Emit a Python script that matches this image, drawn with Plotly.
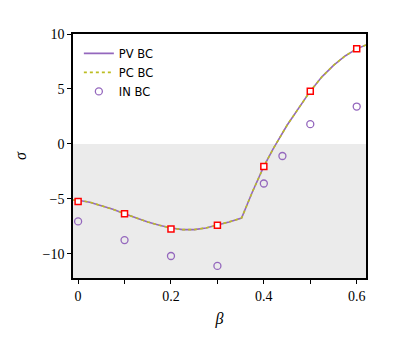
import plotly.graph_objects as go

# continuous curves (PV BC and PC BC lie on top of each other)
beta_line = [-0.012, 0.0, 0.025, 0.05, 0.075, 0.1, 0.125, 0.15, 0.175, 0.2, 0.225, 0.25,
             0.275, 0.3, 0.325, 0.352, 0.375, 0.4, 0.42, 0.45, 0.475, 0.5, 0.525,
             0.55, 0.575, 0.6, 0.62]
pv_sigma = [-5.1, -5.12, -5.3, -5.6, -5.95, -6.35, -6.75, -7.1, -7.4, -7.65, -7.8, -7.8,
            -7.65, -7.4, -7.1, -6.75, -4.4, -2.05, -0.45, 1.7, 3.3, 4.8, 6.1,
            7.15, 8.0, 8.65, 9.0]
pc_sigma = list(pv_sigma)

# IN BC circles
beta_in = [0.0, 0.1, 0.2, 0.3, 0.4, 0.44, 0.5, 0.6]
sigma_in = [-7.05, -8.75, -10.2, -11.1, -3.6, -1.1, 1.8, 3.4]

# red squares
beta_sq = [0.0, 0.1, 0.2, 0.3, 0.4, 0.5, 0.6]
sigma_sq = [-5.25, -6.35, -7.75, -7.4, -2.05, 4.8, 8.65]

x_ticks = [0, 0.1, 0.2, 0.3, 0.4, 0.5, 0.6]
x_labels = ["0", "", "0.2", "", "0.4", "", "0.6"]
y_ticks = [-10, -5, 0, 5, 10]

purple = "#9467bd"
olive = "#bcbd22"

fig = go.Figure()
fig.add_trace(go.Scatter(x=beta_line, y=pv_sigma, mode="lines", name="PV BC",
                         line=dict(color=purple, width=1.6)))
fig.add_trace(go.Scatter(x=beta_line, y=pc_sigma, mode="lines", name="PC BC",
                         line=dict(color=olive, width=1.6, dash="dot")))
fig.add_trace(go.Scatter(x=beta_in, y=sigma_in, mode="markers", name="IN BC",
                         marker=dict(symbol="circle-open", size=7, color=purple,
                                     line=dict(width=1.3, color=purple))))
fig.add_trace(go.Scatter(x=beta_sq, y=sigma_sq, mode="markers", showlegend=False,
                         marker=dict(symbol="square", size=6, color="white",
                                     line=dict(width=1.5, color="red"))))

# shaded stable region below zero
fig.add_shape(type="rect", xref="x domain", yref="y", x0=0, x1=1, y0=-12.2, y1=0,
              fillcolor="#ebebeb", line_width=0, layer="below")

# page body has an 8px margin, so the figure is a bit smaller and shifted
fig.update_layout(
    width=399, height=331,
    margin=dict(l=65, r=41, t=26, b=61),
    plot_bgcolor="white", paper_bgcolor="white",
    font=dict(family="Liberation Serif", size=14, color="black"),
    showlegend=True,
    legend=dict(x=0.02, y=0.98, xanchor="left", yanchor="top",
                bgcolor="rgba(255,255,255,0)",
                font=dict(family="DejaVu Sans", size=11.5),
                tracegroupgap=0, itemwidth=30),
)
fig.update_xaxes(range=[-0.011, 0.62], tickvals=x_ticks, ticktext=x_labels,
                 ticks="outside", ticklen=4, tickwidth=1, tickcolor="black",
                 showgrid=False, zeroline=False, showline=True, linecolor="black",
                 linewidth=1.5, mirror=True, automargin=False,
                 title=dict(text="<i>β</i>", font=dict(size=16), standoff=10))
fig.update_yaxes(range=[-12.2, 10], tickvals=y_ticks,
                 ticks="outside", ticklen=4, tickwidth=1, tickcolor="black",
                 showgrid=False, zeroline=False, showline=True, linecolor="black",
                 linewidth=1.5, mirror=True, automargin=False,
                 title=dict(text="<i>σ</i>", font=dict(size=16), standoff=12))

fig.write_html("out.html")
